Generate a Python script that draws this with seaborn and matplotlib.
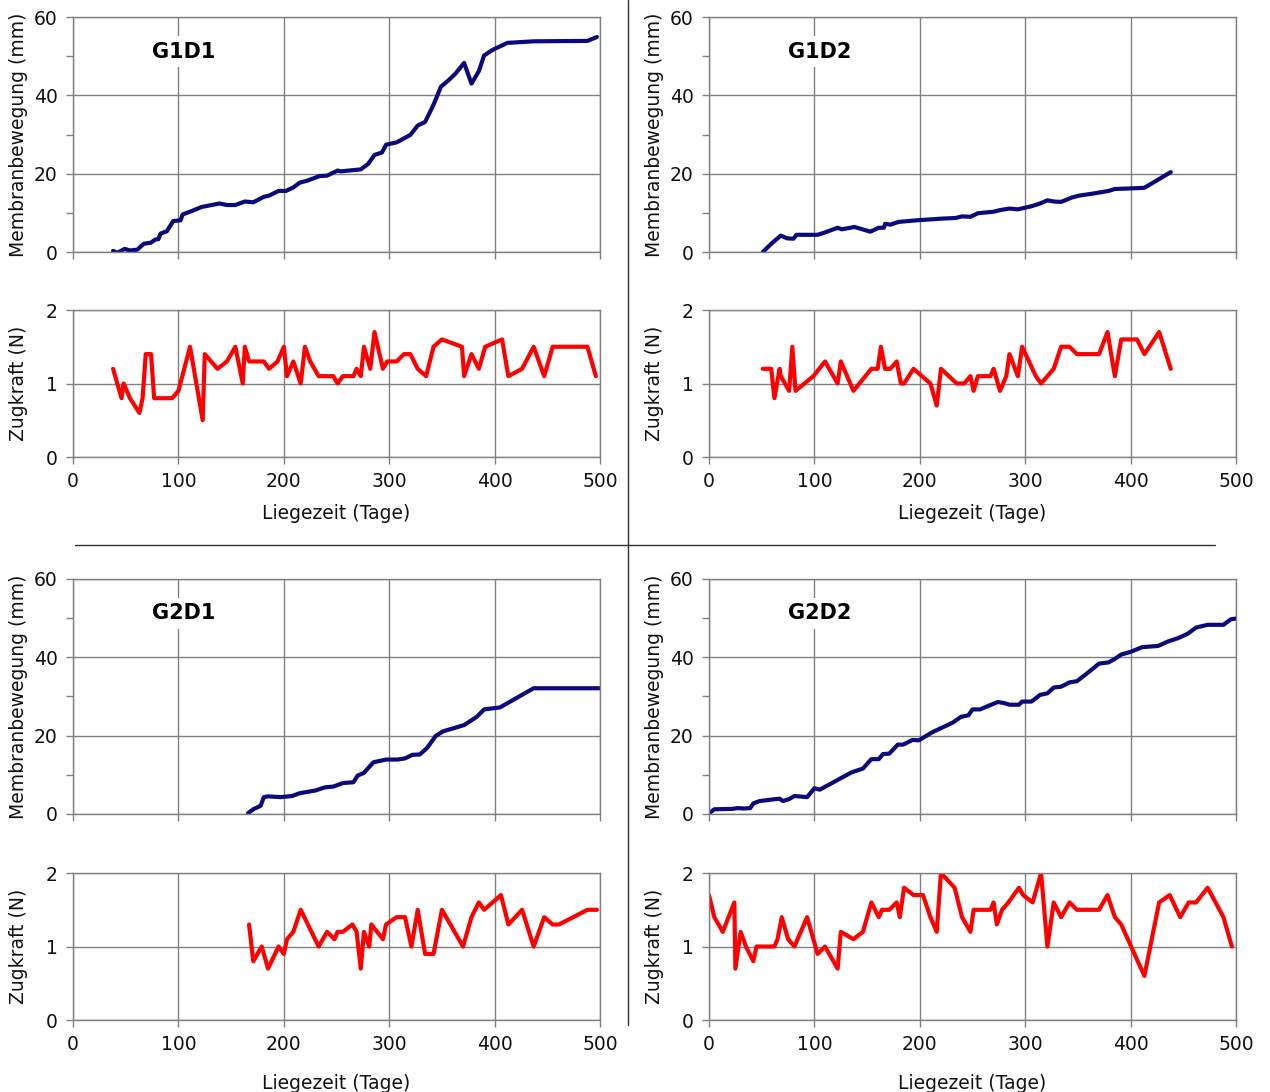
import matplotlib
matplotlib.use("Agg")
import matplotlib.pyplot as plt
from matplotlib.lines import Line2D
from matplotlib.ticker import MultipleLocator
import pandas as pd
import seaborn as sns

# G1D1
g1d1_move_days = [38, 42, 49, 54, 61, 67, 74, 78, 81, 83, 89, 95, 102, 104, 112, 122, 139, 146, 154,
                  163, 171, 181, 186, 195, 202, 209, 215, 222, 234, 241, 251, 254, 273, 280, 286, 293,
                  297, 307, 320, 327, 334, 342, 349, 356, 363, 371, 378, 385, 390, 398, 412, 437, 488, 497]
g1d1_move_mm = [0.3, -0.2, 0.8, 0.4, 0.6, 2.1, 2.4, 3.2, 3.3, 4.7, 5.3, 7.9, 8.1, 9.6, 10.4, 11.5, 12.4,
                12.0, 12.0, 12.9, 12.7, 14.1, 14.4, 15.6, 15.6, 16.5, 17.7, 18.2, 19.4, 19.5, 20.8, 20.6,
                21.1, 22.5, 24.8, 25.4, 27.4, 28.0, 29.9, 32.3, 33.2, 37.6, 42.2, 43.8, 45.6, 48.3, 43.0,
                46.2, 50.2, 51.6, 53.4, 53.8, 53.9, 54.9]
g1d1_force_days = [38, 46, 48, 54, 63, 66, 69, 74, 77, 94, 100, 111, 123, 125, 137, 146, 154, 161, 163,
                   167, 181, 186, 194, 200, 203, 209, 216, 220, 225, 233, 247, 251, 256, 266, 269, 273,
                   276, 282, 286, 294, 298, 307, 314, 320, 327, 335, 342, 350, 369, 371, 378, 385, 391,
                   407, 413, 426, 437, 447, 455, 488, 496]
g1d1_force_n = [1.2, 0.8, 1.0, 0.8, 0.6, 0.8, 1.4, 1.4, 0.8, 0.8, 0.9, 1.5, 0.5, 1.4, 1.2, 1.3, 1.5, 1.0,
                1.5, 1.3, 1.3, 1.2, 1.3, 1.5, 1.1, 1.3, 1.0, 1.5, 1.3, 1.1, 1.1, 1.0, 1.1, 1.1, 1.2, 1.1,
                1.5, 1.2, 1.7, 1.2, 1.3, 1.3, 1.4, 1.4, 1.2, 1.1, 1.5, 1.6, 1.5, 1.1, 1.4, 1.2, 1.5, 1.6,
                1.1, 1.2, 1.5, 1.1, 1.5, 1.5, 1.1]

# G1D2
g1d2_move_days = [51, 59, 68, 74, 80, 83, 103, 110, 122, 126, 138, 153, 161, 166, 167, 172, 180, 197,
                  219, 234, 240, 248, 255, 270, 276, 285, 293, 306, 314, 321, 327, 334, 344, 351, 366,
                  379, 385, 396, 413, 423, 438]
g1d2_move_mm = [0.0, 2.1, 4.2, 3.5, 3.4, 4.4, 4.4, 5.0, 6.2, 5.8, 6.4, 5.2, 6.2, 6.2, 7.2, 7.0, 7.7, 8.1,
                8.5, 8.7, 9.1, 9.0, 9.9, 10.3, 10.7, 11.1, 10.9, 11.7, 12.4, 13.2, 12.9, 12.8, 13.9,
                14.4, 15.0, 15.6, 16.1, 16.2, 16.4, 18.0, 20.4]
g1d2_force_days = [51, 59, 62, 67, 68, 76, 79, 82, 99, 110, 122, 125, 137, 154, 160, 163, 167, 172, 178,
                   182, 185, 194, 210, 216, 220, 235, 242, 248, 251, 255, 267, 270, 276, 282, 285, 293,
                   297, 310, 315, 327, 334, 342, 349, 370, 378, 385, 391, 406, 413, 427, 438]
g1d2_force_n = [1.2, 1.2, 0.8, 1.2, 1.1, 0.9, 1.5, 0.9, 1.1, 1.3, 1.0, 1.3, 0.9, 1.2, 1.2, 1.5, 1.2,
                1.2, 1.3, 1.0, 1.0, 1.2, 1.0, 0.7, 1.2, 1.0, 1.0, 1.1, 0.9, 1.1, 1.1, 1.2, 0.9, 1.1,
                1.4, 1.1, 1.5, 1.1, 1.0, 1.2, 1.5, 1.5, 1.4, 1.4, 1.7, 1.1, 1.6, 1.6, 1.4, 1.7, 1.2]

# G2D1
g2d1_move_days = [166, 171, 178, 181, 185, 197, 208, 215, 230, 239, 247, 256, 266, 270, 276, 285, 297,
                  308, 315, 322, 329, 336, 344, 351, 371, 383, 390, 405, 437, 500]
g2d1_move_mm = [0.2, 1.2, 2.1, 4.3, 4.5, 4.3, 4.6, 5.3, 6.0, 6.8, 7.0, 7.9, 8.1, 9.8, 10.5, 13.2, 13.9,
                13.9, 14.2, 15.1, 15.2, 16.9, 19.9, 21.1, 22.7, 24.8, 26.7, 27.2, 32.1, 32.1]
g2d1_force_days = [167, 171, 179, 185, 195, 200, 203, 209, 216, 233, 241, 248, 251, 256, 265, 269, 273,
                   276, 281, 283, 294, 297, 307, 315, 321, 327, 334, 342, 350, 370, 378, 385, 390, 406,
                   413, 426, 437, 447, 455, 461, 488, 497]
g2d1_force_n = [1.3, 0.8, 1.0, 0.7, 1.0, 0.9, 1.1, 1.2, 1.5, 1.0, 1.2, 1.1, 1.2, 1.2, 1.3, 1.2, 0.7,
                1.2, 1.0, 1.3, 1.1, 1.3, 1.4, 1.4, 1.0, 1.5, 0.9, 0.9, 1.5, 1.0, 1.4, 1.6, 1.5, 1.7,
                1.3, 1.5, 1.0, 1.4, 1.3, 1.3, 1.5, 1.5]

# G2D2
g2d2_move_days = [0, 5, 22, 27, 33, 39, 42, 48, 63, 67, 70, 76, 81, 93, 100, 105, 118, 135, 146, 154,
                  161, 165, 171, 179, 184, 193, 199, 212, 231, 239, 246, 250, 257, 274, 280, 285, 294,
                  297, 306, 314, 321, 327, 334, 342, 349, 360, 370, 379, 385, 391, 400, 411, 426, 435,
                  445, 454, 462, 473, 488, 495, 500]
g2d2_move_mm = [0.2, 1.2, 1.3, 1.5, 1.4, 1.5, 2.7, 3.3, 3.8, 3.9, 3.3, 3.8, 4.6, 4.3, 6.6, 6.2, 8.1,
                10.6, 11.6, 14.0, 14.0, 15.3, 15.4, 17.7, 17.7, 18.9, 18.8, 20.9, 23.3, 24.8, 25.2,
                26.7, 26.7, 28.6, 28.3, 27.9, 27.9, 28.7, 28.7, 30.4, 30.8, 32.3, 32.5, 33.6, 33.9,
                36.2, 38.4, 38.7, 39.6, 40.7, 41.4, 42.6, 42.9, 44.0, 44.9, 46.0, 47.6, 48.3, 48.3,
                49.7, 49.9]
g2d2_force_days = [0, 5, 13, 24, 25, 30, 35, 42, 45, 62, 65, 69, 75, 81, 93, 103, 110, 122, 125, 137,
                   146, 154, 161, 164, 171, 178, 181, 185, 194, 203, 210, 216, 220, 233, 240, 248, 251,
                   267, 270, 273, 278, 284, 294, 298, 307, 315, 321, 327, 334, 342, 349, 370, 378, 385,
                   391, 413, 427, 437, 447, 455, 462, 473, 488, 496]
g2d2_force_n = [1.7, 1.4, 1.2, 1.6, 0.7, 1.2, 1.0, 0.8, 1.0, 1.0, 1.1, 1.4, 1.1, 1.0, 1.4, 0.9, 1.0,
                0.7, 1.2, 1.1, 1.2, 1.6, 1.4, 1.5, 1.5, 1.6, 1.4, 1.8, 1.7, 1.7, 1.4, 1.2, 2.0, 1.8,
                1.4, 1.2, 1.5, 1.5, 1.6, 1.3, 1.5, 1.6, 1.8, 1.7, 1.6, 2.0, 1.0, 1.6, 1.4, 1.6, 1.5,
                1.5, 1.7, 1.4, 1.3, 0.6, 1.6, 1.7, 1.4, 1.6, 1.6, 1.8, 1.4, 1.0]

x_ticks = [0, 100, 200, 300, 400, 500]
move_ticks = [0, 20, 40, 60]
force_ticks = [0, 1, 2]

GRID = "#808080"
BLUE = "#0a0a7c"
RED = "#ff0000"
FS = 13.5
TXT = "#111111"

sns.set_theme(style="white")
plt.rcParams['font.family'] = ['DejaVu Sans']

fig = plt.figure(figsize=(12.7, 10.92), dpi=100)


def style_axes(ax, ymax):
    ax.set_xlim(0, 500)
    ax.set_ylim(0, ymax)
    ax.set_xticks(x_ticks)
    ax.grid(True, color=GRID, linewidth=1.0)
    for sp in ax.spines.values():
        sp.set_color(GRID)
        sp.set_linewidth(1.0)
    ax.tick_params(axis="both", which="both", direction="out", length=5, width=1.0,
                   color=GRID, labelsize=FS, labelcolor=TXT, pad=6,
                   bottom=True, left=True)
    ax.set_xlabel("")
    ax.set_ylabel("")


def draw_block(left, bottom_top, bottom_low, name, md, mv, fd, fv, xlabelpad):
    w = 0.415
    ax1 = fig.add_axes([left, bottom_top, w, 0.2152])
    ax2 = fig.add_axes([left, bottom_low, w, 0.1346])

    sns.lineplot(data=pd.DataFrame({"Tage": md, "mm": mv}), x="Tage", y="mm", sort=False,
                 estimator=None, color=BLUE, linewidth=3.0, ax=ax1)
    sns.lineplot(data=pd.DataFrame({"Tage": fd, "N": fv}), x="Tage", y="N", sort=False,
                 estimator=None, color=RED, linewidth=3.0, ax=ax2)

    style_axes(ax1, 60)
    ax1.set_yticks(move_ticks)
    ax1.yaxis.set_minor_locator(MultipleLocator(10))
    ax1.tick_params(labelbottom=False)
    ax1.set_ylabel("Membranbewegung (mm)", fontsize=FS, color=TXT)
    ax1.yaxis.set_label_coords(-0.085, 0.5)
    ax1.text(105, 51.2, name, fontsize=15, fontweight="bold", ha="center", va="center",
             color="black", bbox=dict(facecolor="white", edgecolor="none", pad=4))

    style_axes(ax2, 2)
    ax2.set_yticks(force_ticks)
    ax2.set_ylabel("Zugkraft (N)", fontsize=FS, color=TXT)
    ax2.yaxis.set_label_coords(-0.085, 0.5)
    ax2.set_xlabel("Liegezeit (Tage)", fontsize=FS, color=TXT, labelpad=xlabelpad)


draw_block(0.0575, 0.7692, 0.5815, "G1D1", g1d1_move_days, g1d1_move_mm,
           g1d1_force_days, g1d1_force_n, 9)
draw_block(0.5583, 0.7692, 0.5815, "G1D2", g1d2_move_days, g1d2_move_mm,
           g1d2_force_days, g1d2_force_n, 9)
draw_block(0.0575, 0.2546, 0.0659, "G2D1", g2d1_move_days, g2d1_move_mm,
           g2d1_force_days, g2d1_force_n, 14)
draw_block(0.5583, 0.2546, 0.0659, "G2D2", g2d2_move_days, g2d2_move_mm,
           g2d2_force_days, g2d2_force_n, 14)

# separators between the four blocks
fig.add_artist(Line2D([628 / 1270, 628 / 1270], [1.0, 1 - 1025 / 1092],
                      transform=fig.transFigure, color="#333333", linewidth=1.0))
fig.add_artist(Line2D([75 / 1270, 1215 / 1270], [1 - 545 / 1092, 1 - 545 / 1092],
                      transform=fig.transFigure, color="#333333", linewidth=1.0))

fig.savefig("out.png", dpi=100, facecolor="white")
